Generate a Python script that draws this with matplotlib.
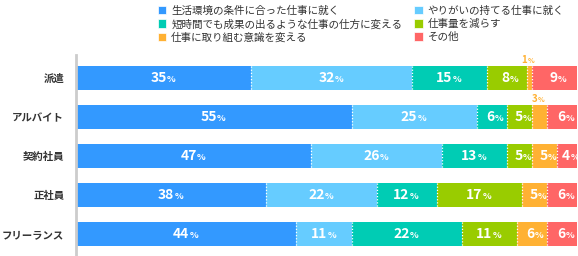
import matplotlib
matplotlib.use('Agg')
import matplotlib.pyplot as plt
from matplotlib.patches import Patch
import numpy as np

plt.rcParams['font.family'] = ['Noto Sans CJK JP', 'DejaVu Sans']

# --- data ---
categories = ['派遣', 'アルバイト', '契約社員', '正社員', 'フリーランス']
series = ['生活環境の条件に合った仕事に就く', 'やりがいの持てる仕事に就く',
          '短時間でも成果の出るような仕事の仕方に変える', '仕事量を減らす',
          '仕事に取り組む意識を変える', 'その他']
colors = ['#3399ff', '#66ccff', '#00ccb4', '#99cc00', '#ffb133', '#ff6666']
values = np.array([
    [35, 32, 15, 8, 1, 9],
    [55, 25, 6, 5, 3, 6],
    [47, 26, 13, 5, 5, 4],
    [38, 22, 12, 17, 5, 6],
    [44, 11, 22, 11, 6, 6],
])

W, H = 578, 256
fig = plt.figure(figsize=(W / 100, H / 100), dpi=100)
ax = fig.add_axes([76 / W, 0, 501 / W, 201 / H])

y = np.arange(len(categories))
left = np.zeros(len(categories))
for j, name in enumerate(series):
    ax.barh(y, values[:, j], left=left, height=0.615, color=colors[j], label=name)
    for i in range(len(categories)):
        v = values[i, j]
        cx = left[i] + v / 2
        if v <= 3:
            ax.annotate(str(v), (cx, y[i] - 0.31), xytext=(-1.5, 4), textcoords='offset points',
                        ha='right', va='center', fontsize=7, color=colors[4], fontweight='bold')
            ax.annotate('%', (cx, y[i] - 0.31), xytext=(-1.5, 4), textcoords='offset points',
                        ha='left', va='center', fontsize=5, color=colors[4], fontweight='bold')
        else:
            ax.annotate(str(v), (cx, y[i]), xytext=(2.2, 0), textcoords='offset points',
                        ha='right', va='center', fontsize=10, color='white', fontweight='bold')
            ax.annotate('%', (cx, y[i]), xytext=(2.4, -0.8), textcoords='offset points',
                        ha='left', va='center', fontsize=6.5, color='white', fontweight='bold')
    left = left + values[:, j]
    if j < len(series) - 1:
        ax.vlines(left, y - 0.3075, y + 0.3075, colors='white', linestyles=(0, (1, 1.5)), lw=0.9)

ax.set_xlim(0, 100)
ax.set_ylim(4.56, -0.59)
ax.set_yticks(y)
ax.set_yticklabels(categories, fontsize=7.5, fontweight='bold', color='#333333')
ax.tick_params(axis='y', length=0, pad=8.5)
ax.set_xticks([])
for s in ['top', 'right', 'bottom']:
    ax.spines[s].set_visible(False)
ax.spines['left'].set_color('#cccccc')
ax.spines['left'].set_linewidth(2)

# legend, column-wise order
order = [0, 2, 4, 1, 3, 5]
handles = [Patch(facecolor=colors[k], edgecolor='white', lw=0.5) for k in order]
labels = [series[k] for k in order]
fig.legend(handles, labels, ncol=2, loc='upper left', bbox_to_anchor=(148 / W, 1.015),
           frameon=False, fontsize=7.6, handlelength=0.85, handleheight=0.85,
           handletextpad=0.45, columnspacing=1.1, labelspacing=0.28, labelcolor='#333333')

fig.savefig('out.png', dpi=100, facecolor='white')
